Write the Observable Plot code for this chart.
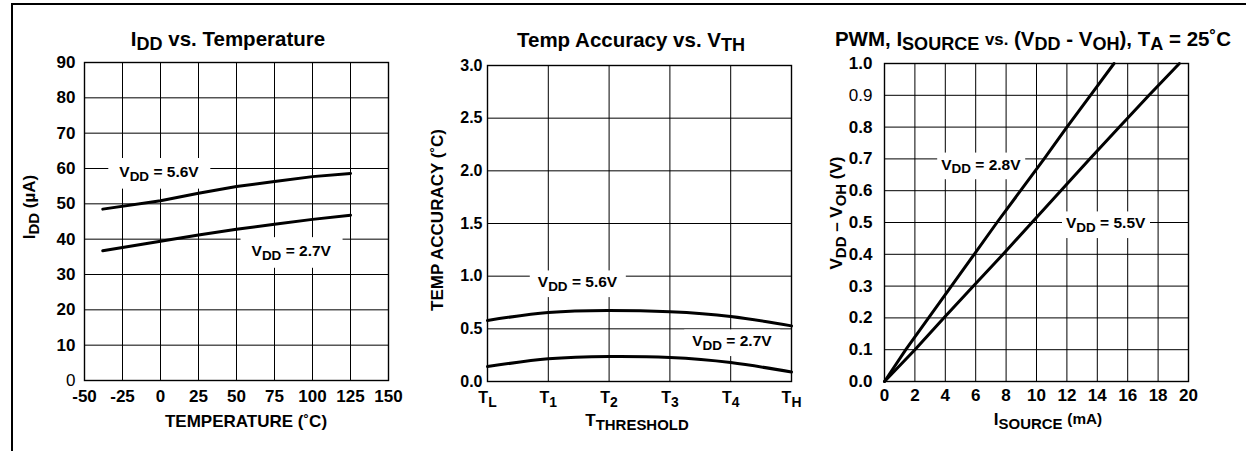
<!DOCTYPE html>
<html><head><meta charset="utf-8">
<script src="https://cdn.jsdelivr.net/npm/d3@7"></script>
<script src="https://cdn.jsdelivr.net/npm/@observablehq/plot@0.6"></script>
<style>
body{margin:0;background:#fff;}
#root{position:relative;width:1246px;height:451px;overflow:hidden;font-family:"Liberation Sans",Arial,Helvetica,sans-serif;font-weight:bold;color:#000;background:#fff;}
.lbl{position:absolute;white-space:nowrap;line-height:1;}
.sub{font-size:88%;position:relative;top:0.24em;}
.sm{font-size:82%;position:relative;top:-0.08em;}
.sm2{font-size:90%;position:relative;top:-0.08em;}
.panel{position:absolute;top:0;}
#border{position:absolute;left:11px;top:3px;width:2000px;height:2000px;border-top:2px solid #000;border-left:2px solid #000;}
</style></head>
<body><div id="root"><div id="border"></div></div>
<script>
// ---------- Panel 1: IDD vs Temperature ----------
const tempC   = [-38, 0, 25, 50, 75, 100, 125];
const idd56   = [48.5, 50.9, 53.0, 54.9, 56.3, 57.7, 58.6];
const idd27   = [36.7, 39.4, 41.2, 42.8, 44.2, 45.6, 46.8];
const iddXTicks = [-50, -25, 0, 25, 50, 75, 100, 125, 150];
const iddYTicks = [0, 10, 20, 30, 40, 50, 60, 70, 80, 90];
const iddLightTicks = [0];
const iddLabels = [
  {x: -1, y: 59, t: "V{DD} = 5.6V"},
  {x: 86, y: 36.6, t: "V{DD} = 2.7V"}
];

// ---------- Panel 2: Temp Accuracy vs VTH ----------
const thrPos    = [0, 1, 2, 3, 4, 5];
const thrLabels = ["T{L}", "T{1}", "T{2}", "T{3}", "T{4}", "T{H}"];
const acc56     = [0.58, 0.655, 0.674, 0.662, 0.618, 0.528];
const acc27     = [0.142, 0.215, 0.237, 0.228, 0.18, 0.09];
const accYTicks = [0, 0.5, 1.0, 1.5, 2.0, 2.5, 3.0];
const accLabels = [
  {x: 1.48, y: 0.94, t: "V{DD} = 5.6V"},
  {x: 4.02, y: 0.38, t: "V{DD} = 2.7V"}
];

// ---------- Panel 3: PWM, ISOURCE vs (VDD - VOH) ----------
const vdrop   = [0, 0.1, 0.2, 0.3, 0.4, 0.5, 0.6, 0.7, 0.8, 0.9, 1.0];
const isrc28  = [0, 1.4, 2.9, 4.4, 5.9, 7.4, 8.95, 10.5, 12.0, 13.55, 15.1];
const isrc55  = [0, 2.0, 3.9, 5.85, 7.8, 9.7, 11.6, 13.5, 15.45, 17.4, 19.4];
const srcXTicks = [0, 2, 4, 6, 8, 10, 12, 14, 16, 18, 20];
const srcYTicks = [0, 0.1, 0.2, 0.3, 0.4, 0.5, 0.6, 0.7, 0.8, 0.9, 1.0];
const srcLightTicks = [0.9];
const srcLabels = [
  {x: 6.34, y: 0.682, t: "V{DD} = 2.8V"},
  {x: 14.55, y: 0.497, t: "V{DD} = 5.5V"}
];

const FONT = '"Liberation Sans", Arial, Helvetica, sans-serif';
const root = document.getElementById("root");

function series(xs, ys) { return xs.map((x, i) => ({x, y: ys[i]})); }

function makePanel(o) {
  const gridStyle = {stroke: "#000", strokeOpacity: 1, strokeWidth: 1};
  const fs = o.tickFont || 17;
  const plot = Plot.plot({
    width: o.width, height: 451,
    marginLeft: o.mL, marginRight: o.mR, marginTop: o.mT, marginBottom: o.mB,
    x: {domain: o.xDomain},
    y: {domain: o.yDomain},
    style: {fontFamily: FONT, background: "transparent", color: "#000", overflow: "visible"},
    marks: [
      Plot.gridX(o.xTicks, gridStyle),
      Plot.gridY(o.yTicks, gridStyle),
      Plot.frame({stroke: "#000", strokeWidth: 1.4}),
      Plot.axisX(o.xTicks, {tickSize: 0, tickPadding: o.xPad, tickFormat: o.xFmt, fontSize: fs, fontWeight: "bold", fill: "#000", label: null}),
      Plot.axisY(o.yTicks, {tickSize: 0, tickPadding: o.yPad, tickFormat: o.yFmt, fontSize: fs, fontWeight: "bold", fill: "#000", label: null}),
      Plot.text(o.labels, {x: "x", y: "y", text: "t", fontSize: 15.5, fontWeight: "bold", fill: "#000"}),
      ...o.series.map(s => Plot.line(s, {x: "x", y: "y", stroke: "#000", strokeWidth: 3, curve: o.curve || "linear"}))
    ]
  });
  const wrap = document.createElement("div");
  wrap.className = "panel";
  wrap.style.left = o.left + "px";
  wrap.appendChild(plot);
  root.appendChild(wrap);
  postProcess(plot, o.boxPad || [7, 3]);
  return plot;
}

const NS = "http://www.w3.org/2000/svg";
function postProcess(svg, pad) {
  svg.querySelectorAll("text").forEach(t => {
    let s = t.textContent;
    if (s.startsWith("~")) { s = s.slice(1); t.textContent = s; t.setAttribute("font-weight", "normal"); t.style.fontWeight = "normal"; }
    if (!s.includes("{")) return;
    t.textContent = "";
    const parts = s.split(/(\{[^}]*\})/).filter(p => p.length);
    let shifted = false;
    parts.forEach(p => {
      const ts = document.createElementNS(NS, "tspan");
      if (p.startsWith("{")) {
        ts.textContent = p.slice(1, -1);
        ts.setAttribute("font-size", "0.87em");
        ts.setAttribute("dy", "0.27em");
        shifted = true;
      } else {
        ts.textContent = p;
        if (shifted) { ts.setAttribute("dy", "-0.235em"); shifted = false; }
      }
      t.appendChild(ts);
    });
  });
  // white boxes behind curve labels
  svg.querySelectorAll('g[aria-label="text"] text').forEach(t => {
    const bb = t.getBBox();
    const r = document.createElementNS(NS, "rect");
    const [px, py] = pad;
    r.setAttribute("x", bb.x - px); r.setAttribute("y", bb.y - py);
    r.setAttribute("width", bb.width + 2 * px); r.setAttribute("height", bb.height + 2 * py);
    r.setAttribute("fill", "#fff");
    const tr = t.getAttribute("transform"); if (tr) r.setAttribute("transform", tr);
    t.parentNode.insertBefore(r, t);
  });
}

const f1 = d => (iddLightTicks.includes(d) ? "~" : "") + d;
makePanel({
  left: 0, width: 410, mL: 84, mR: 22, mT: 62, mB: 71,
  xDomain: [-50, 150], yDomain: [0, 90],
  xTicks: iddXTicks, yTicks: iddYTicks, xFmt: d => String(d), yFmt: f1, xPad: 9, yPad: 9,
  series: [series(tempC, idd56), series(tempC, idd27)], labels: iddLabels, boxPad: [11, 5]
});

makePanel({
  left: 410, width: 400, mL: 77, mR: 19, mT: 65, mB: 70, tickFont: 16,
  xDomain: [0, 5], yDomain: [0, 3],
  xTicks: thrPos, yTicks: accYTicks, xFmt: (d, i) => thrLabels[i], yFmt: d3.format(".1f"), xPad: 10, yPad: 5,
  series: [series(thrPos, acc56), series(thrPos, acc27)], labels: accLabels, curve: "natural", boxPad: [8, 3]
});

const f3 = d => (srcLightTicks.includes(d) ? "~" : "") + d3.format(".1f")(d);
makePanel({
  left: 810, width: 436, mL: 74, mR: 58, mT: 63, mB: 70,
  xDomain: [0, 20], yDomain: [0, 1],
  xTicks: srcXTicks, yTicks: srcYTicks, xFmt: d => String(d), yFmt: f3, xPad: 7, yPad: 12,
  series: [series(isrc28, vdrop), series(isrc55, vdrop)], labels: srcLabels, boxPad: [4, 3]
});

// ---------- Titles and axis titles (HTML text) ----------
function lab(html, cx, cy, size, rot) {
  const d = document.createElement("div");
  d.className = "lbl";
  d.innerHTML = html;
  d.style.left = cx + "px";
  d.style.top = cy + "px";
  d.style.fontSize = size + "px";
  d.style.transform = "translate(-50%,-50%)" + (rot ? " rotate(-90deg)" : "");
  root.appendChild(d);
}
const S = t => `<span class="sub">${t}</span>`;
lab(`I${S("DD")} vs. Temperature`, 228, 39, 20.5);
lab(`Temp Accuracy vs. V${S("TH")}`, 631, 40, 20.5);
lab(`PWM, I${S("SOURCE")} <span class="sm">vs.</span> (V${S("DD")} - V${S("OH")}), T${S("A")} = 25˚C`, 1033, 39, 20.5);

lab(`TEMPERATURE (˚C)`, 246, 421, 17);
lab(`T${S("THRESHOLD")}`, 637, 420, 17);
lab(`I${S("SOURCE")} <span class="sm2">(mA)</span>`, 1048, 419, 17);

lab(`I${S("DD")} (µA)`, 29, 207, 17, true);
lab(`TEMP ACCURACY (˚C)`, 437, 220, 17, true);
lab(`V${S("DD")} – V${S("OH")} (V)`, 836, 213, 17, true);
</script>
</body></html>
